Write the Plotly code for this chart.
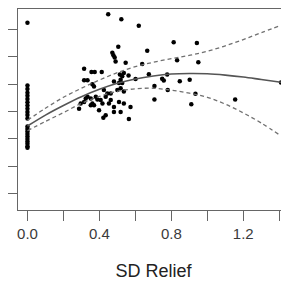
import plotly.graph_objects as go

# Scatter points: SD Relief (x) vs response (y, unlabelled axis)
zero_y = [6.24, 3.95, 3.82, 3.69, 3.58, 3.46, 3.34, 3.22, 3.10, 2.98, 2.87, 2.75,
          2.45, 2.36, 2.27, 2.18, 2.09, 2.00, 1.91, 1.82, 1.73, 1.68]
pts_x = [0.449, 0.522, 0.619, 0.813, 0.942, 0.666, 0.505, 0.472, 0.478, 0.485,
         0.490, 0.546, 0.638, 0.832, 0.950, 0.315, 0.356, 0.374, 0.413, 0.536,
         0.514, 0.527, 0.675, 0.777, 0.749, 0.758, 0.847, 0.902, 0.601, 0.562,
         0.518, 0.509, 0.527, 0.481, 0.315, 0.334, 0.361, 0.370, 0.500, 0.518,
         0.536, 0.425, 0.444, 0.435, 0.463, 0.324, 0.334, 0.352, 0.315, 0.380,
         0.389, 0.296, 0.287, 0.361, 0.370, 0.407, 0.417, 0.463, 0.453, 0.481,
         0.509, 0.536, 0.398, 0.435, 0.481, 0.518, 0.573, 0.564, 0.422, 0.706,
         0.780, 0.934, 0.706, 0.911, 1.155, 1.410, 0.352]
pts_y = [6.55, 6.37, 6.13, 5.53, 5.50, 5.22, 5.37, 5.15, 5.06, 4.97,
         4.83, 4.78, 4.74, 4.87, 4.80, 4.56, 4.44, 4.44, 4.44, 4.41,
         4.35, 4.29, 4.36, 4.35, 4.20, 4.13, 4.11, 4.16, 4.19, 4.32,
         4.16, 4.04, 4.04, 4.10, 4.14, 4.14, 4.00, 3.91, 3.79, 3.85,
         3.73, 3.79, 3.66, 3.54, 3.66, 3.48, 3.54, 3.48, 3.35, 3.54,
         3.44, 3.29, 3.10, 3.29, 3.23, 3.42, 3.29, 3.42, 3.29, 3.17,
         3.35, 3.29, 3.05, 2.86, 2.98, 2.98, 3.17, 2.73, 2.77, 3.93,
         3.79, 3.65, 3.44, 3.27, 3.44, 4.06, 3.23]

# Fitted curve and confidence band
fit_x = [0.0, 0.1, 0.2, 0.3, 0.4, 0.5, 0.6, 0.7, 0.8, 0.9, 1.0, 1.1, 1.2, 1.3, 1.41]
fit_y = [2.47, 2.87, 3.22, 3.54, 3.81, 4.03, 4.19, 4.30, 4.37, 4.39, 4.38, 4.33, 4.26, 4.17, 4.07]
upper_y = [2.68, 3.12, 3.52, 3.85, 4.15, 4.42, 4.64, 4.80, 4.93, 5.05, 5.20, 5.40, 5.63, 5.88, 6.15]
lower_y = [2.30, 2.64, 2.96, 3.30, 3.55, 3.74, 3.83, 3.85, 3.78, 3.67, 3.52, 3.27, 2.95, 2.58, 2.11]

x_tickvals = [0.0, 0.2, 0.4, 0.6, 0.8, 1.0, 1.2, 1.4]
x_ticktext = ["0.0", "", "0.4", "", "0.8", "", "1.2", ""]
y_tickvals = [0, 1, 2, 3, 4, 5, 6]

fig = go.Figure()
fig.add_trace(go.Scatter(x=[0.0] * len(zero_y) + pts_x, y=zero_y + pts_y, mode="markers",
                         marker=dict(size=4.5, color="#000000"), showlegend=False))
fig.add_trace(go.Scatter(x=fit_x, y=upper_y, mode="lines", line=dict(color="#707070", width=1.3, dash="4px,3px", shape="spline"), showlegend=False))
fig.add_trace(go.Scatter(x=fit_x, y=lower_y, mode="lines", line=dict(color="#707070", width=1.3, dash="4px,3px", shape="spline"), showlegend=False))
fig.add_trace(go.Scatter(x=fit_x, y=fit_y, mode="lines", line=dict(color="#555555", width=1.6, shape="spline"), showlegend=False))

fig.update_layout(
    width=281, height=273,
    margin=dict(l=9, r=0, t=1, b=67),
    paper_bgcolor="white", plot_bgcolor="white",
    font=dict(family="Liberation Sans, Arial, sans-serif", color="#333333"),
    xaxis=dict(range=[-0.0526, 1.4543], tickvals=x_tickvals, ticktext=x_ticktext,
               ticks="outside", ticklen=10, tickcolor="#666666", tickwidth=1.2,
               showline=True, linecolor="#666666", linewidth=1.4, mirror=True,
               showgrid=False, zeroline=False, ticklabelstandoff=0,
               tickfont=dict(size=15, color="#3a3a3a"),
               title=dict(text="SD Relief", font=dict(size=18, color="#222222"), standoff=26)),
    yaxis=dict(range=[-0.596, 6.745], tickvals=y_tickvals, showticklabels=False,
               ticks="outside", ticklen=10, tickcolor="#666666", tickwidth=1.2,
               showline=True, linecolor="#666666", linewidth=1.4, mirror=False,
               showgrid=False, zeroline=False),
)

fig.write_html("out.html")
